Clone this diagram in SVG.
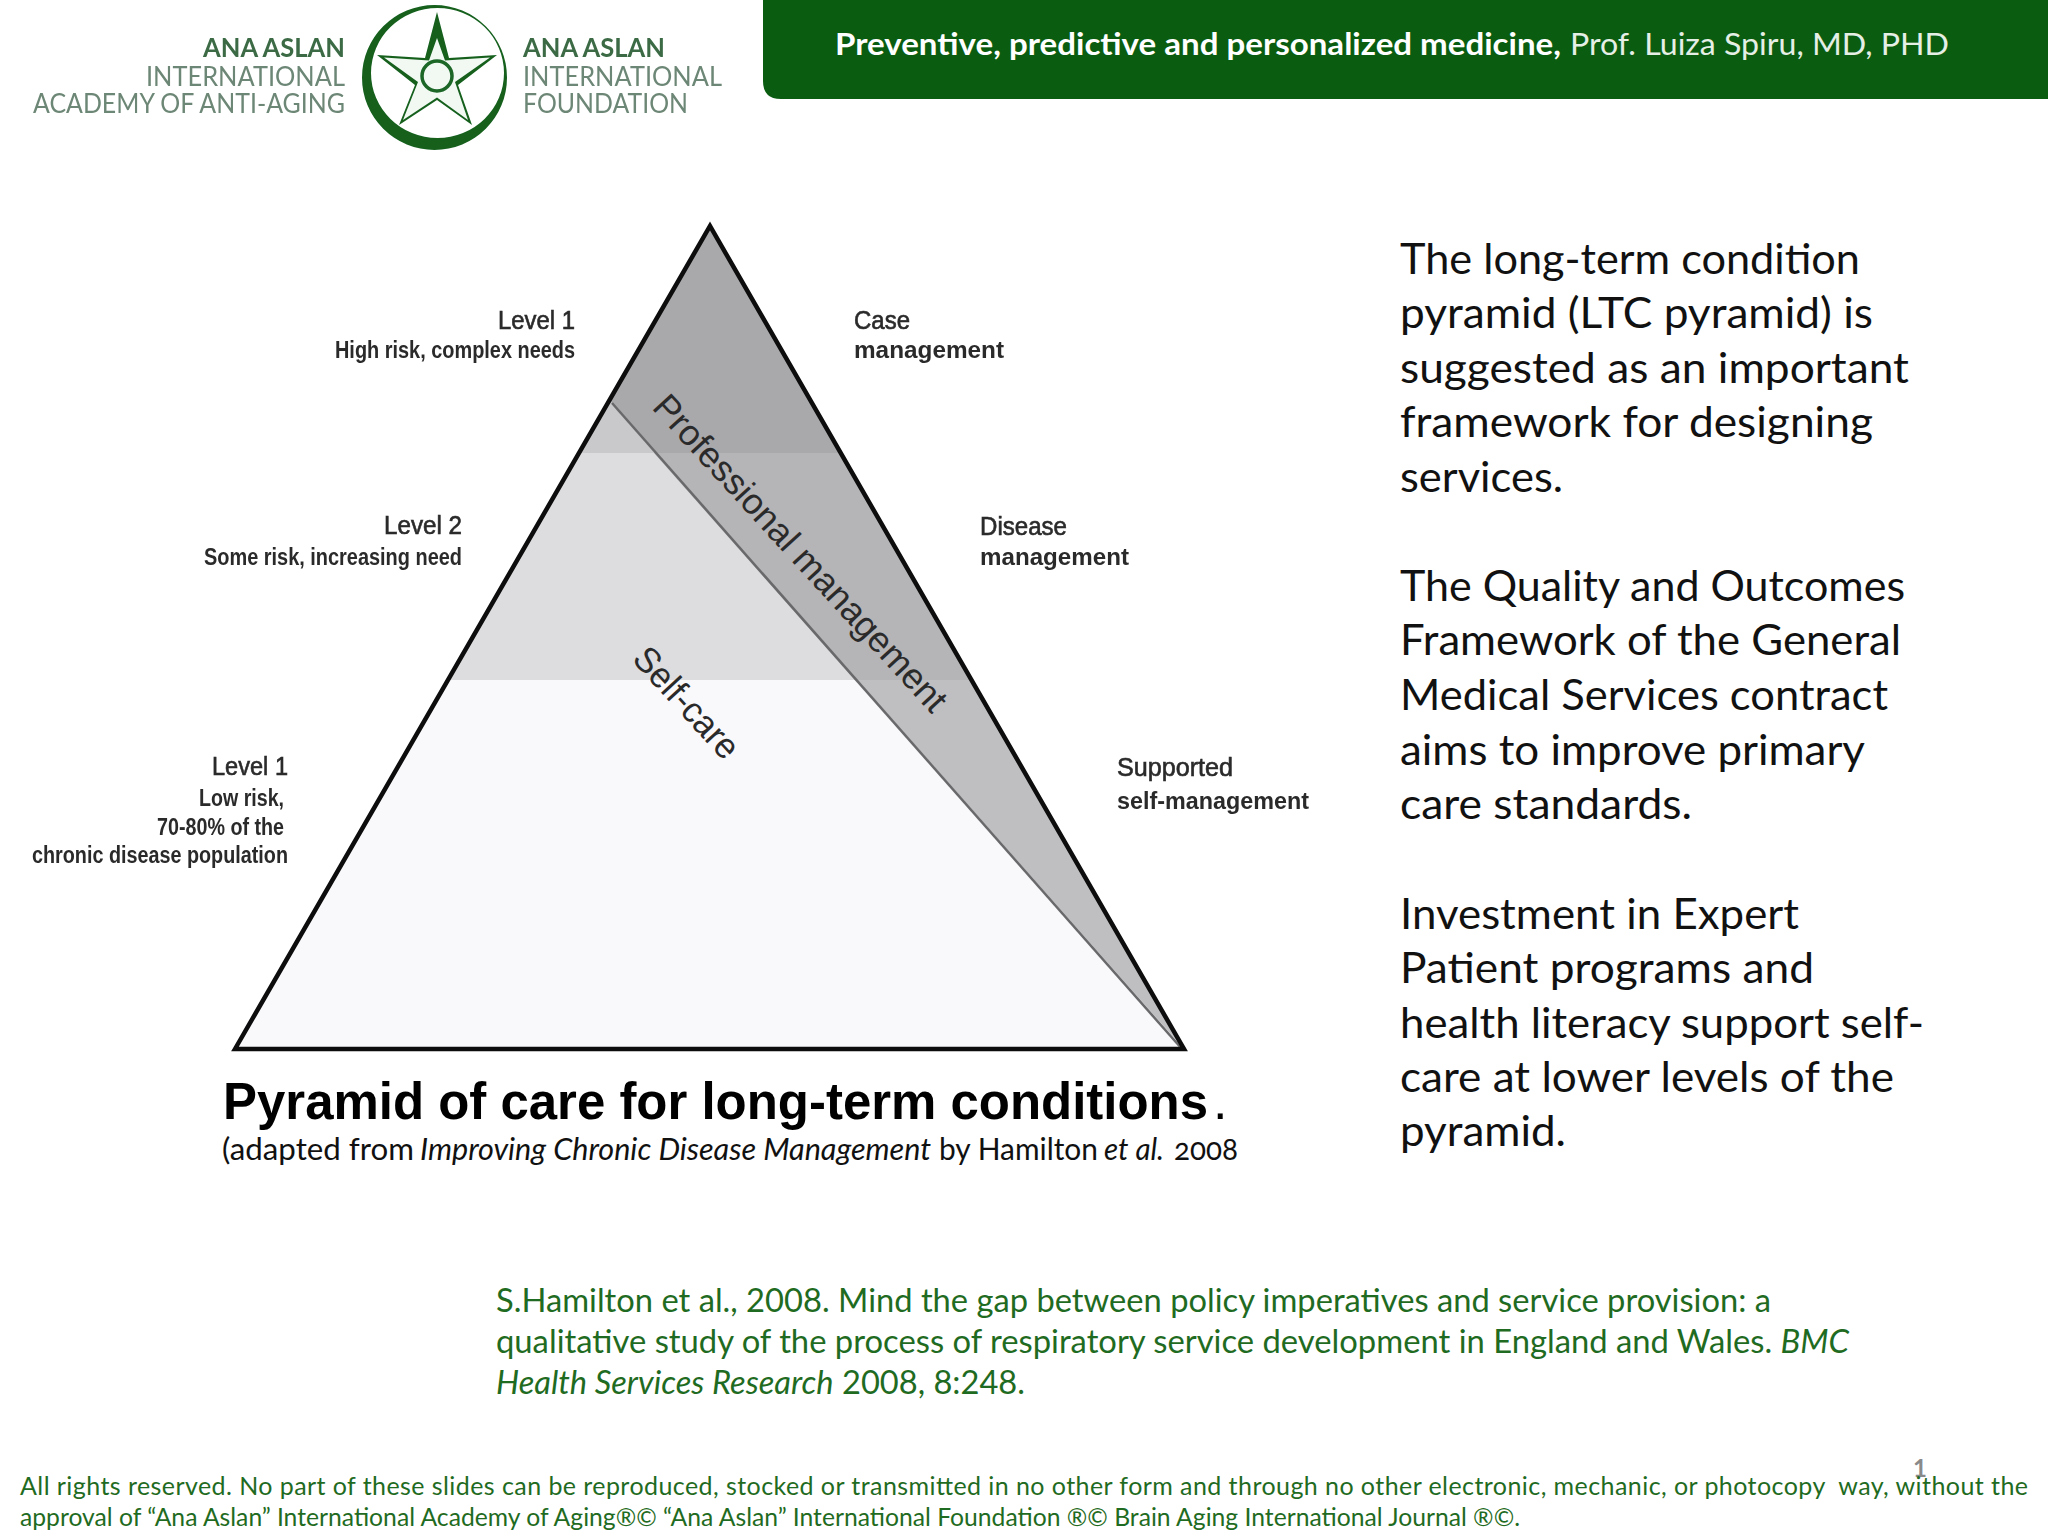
<svg xmlns="http://www.w3.org/2000/svg" width="2048" height="1536" viewBox="0 0 2048 1536">
<defs>
<filter id="soft" x="-5%" y="-5%" width="110%" height="110%"><feGaussianBlur stdDeviation="0.6"/></filter>
<clipPath id="tri"><path d="M235 1049L710 226L1184 1049Z"/></clipPath>
</defs>
<style>
text{font-family:"Lato","Noto Sans",sans-serif}
.b{font-size:43px;fill:#111}
.r{font-size:33px;fill:#1f6b22}
.f{font-size:25px;fill:#1f6b22;white-space:pre}
.a{font-family:"Liberation Sans",Arial,sans-serif;font-size:23px;fill:#2a2a2a;font-weight:bold}
.a2{font-family:"Liberation Sans",Arial,sans-serif;font-size:25px;fill:#2a2a2a;stroke:#2a2a2a;stroke-width:.6}
.l1{font-size:27px;font-weight:bold;fill:#3b6b45}
.l2{font-size:27px;fill:#6d8776}
.p{font-family:"Liberation Sans",Arial,sans-serif;fill:#2a2a2a;font-size:36px}
.c{font-size:30px;fill:#111}
</style>
<rect width="2048" height="1536" fill="#fff"/>
<g id="header">
<path d="M763 0H2048V99H781Q763 99 763 81Z" fill="#0a5d10"/>
<text x="835" y="55" font-size="31" fill="#fff" font-weight="bold" textLength="726" lengthAdjust="spacingAndGlyphs">Preventive, predictive and personalized medicine,</text>
<text x="1570" y="55" font-size="31" fill="#e6efe6" textLength="379" lengthAdjust="spacingAndGlyphs">Prof. Luiza Spiru, MD, PHD</text>
</g>
<g id="logo" filter="url(#soft)">
<path fill-rule="evenodd" d="M362 77.500A72.500 72.500 0 1 0 507 77.500A72.500 72.500 0 1 0 362 77.500ZM371 73A66.500 65 0 1 1 504 73A66.500 65 0 1 1 371 73Z" fill="#14601f"/>
<path d="M437 12L449 58L497 55L458 85L472 125L437 100L399 125L415 85L377 55L425 58Z" fill="#14601f"/>
<path d="M437 38L445 60.500L490 57.500L455 82L468 120L437 97.500L403 120L418 82L384 57.500L429 60.500Z" fill="#f2f9f2"/>
<circle cx="437" cy="76" r="15" fill="#f2f9f2" stroke="#1a6628" stroke-width="3.500"/>
<text class="l1" x="345" y="57" text-anchor="end" textLength="142" lengthAdjust="spacingAndGlyphs">ANA ASLAN</text>
<text class="l2" x="345" y="86" text-anchor="end" textLength="199" lengthAdjust="spacingAndGlyphs">INTERNATIONAL</text>
<text class="l2" x="345" y="113" text-anchor="end" textLength="312" lengthAdjust="spacingAndGlyphs">ACADEMY OF ANTI-AGING</text>
<text class="l1" x="523" y="57" textLength="142" lengthAdjust="spacingAndGlyphs">ANA ASLAN</text>
<text class="l2" x="523" y="86" textLength="199" lengthAdjust="spacingAndGlyphs">INTERNATIONAL</text>
<text class="l2" x="523" y="113" textLength="165" lengthAdjust="spacingAndGlyphs">FOUNDATION</text>
</g>
<g id="pyramid">
<g clip-path="url(#tri)">
<rect x="200" y="200" width="1000" height="880" fill="#f9f8fb"/>
<rect x="200" y="453" width="1000" height="227" fill="#dddcdf"/>
<rect x="200" y="200" width="1000" height="253" fill="#c9c8cb"/>
<path d="M612 403L1184 1049H1300V200H500Z" fill="#bfbec1"/>
<path d="M612 403L654 450.500V453H1000V200H500Z" fill="#a9a8ab"/>
<path d="M654 453L855 680H1000V453Z" fill="#b5b4b7"/>
</g>
<path d="M612 403L1182 1049" fill="none" stroke="#69696b" stroke-width="2.500"/>
<path d="M235 1049L710 226L1184 1049Z" fill="none" stroke="#0d0d0d" stroke-width="4.500" stroke-linejoin="miter"/>
<text class="p" x="0" y="0" textLength="416" lengthAdjust="spacingAndGlyphs" transform="translate(651 408) rotate(47.500)">Professional management</text>
<text class="p" x="0" y="0" textLength="138" lengthAdjust="spacingAndGlyphs" transform="translate(631 660) rotate(47.500)">Self-care</text>
</g>
<g id="labels-left" filter="url(#soft)">
<text class="a2" x="575" y="329" text-anchor="end" textLength="77" lengthAdjust="spacingAndGlyphs">Level 1</text>
<text class="a" x="575" y="358" text-anchor="end" textLength="240" lengthAdjust="spacingAndGlyphs">High risk, complex needs</text>
<text class="a2" x="462" y="534" text-anchor="end" textLength="78" lengthAdjust="spacingAndGlyphs">Level 2</text>
<text class="a" x="462" y="565" text-anchor="end" textLength="258" lengthAdjust="spacingAndGlyphs">Some risk, increasing need</text>
<text class="a2" x="288" y="775" text-anchor="end" textLength="76" lengthAdjust="spacingAndGlyphs">Level 1</text>
<text class="a" x="284" y="806" text-anchor="end" textLength="85" lengthAdjust="spacingAndGlyphs">Low risk,</text>
<text class="a" x="284" y="835" text-anchor="end" textLength="127" lengthAdjust="spacingAndGlyphs">70-80% of the</text>
<text class="a" x="288" y="863" text-anchor="end" textLength="256" lengthAdjust="spacingAndGlyphs">chronic disease population</text>
</g>
<g id="labels-right" filter="url(#soft)">
<text class="a2" x="854" y="329" textLength="56" lengthAdjust="spacingAndGlyphs">Case</text>
<text class="a" x="854" y="358" textLength="150" lengthAdjust="spacingAndGlyphs">management</text>
<text class="a2" x="980" y="535" textLength="87" lengthAdjust="spacingAndGlyphs">Disease</text>
<text class="a" x="980" y="565" textLength="149" lengthAdjust="spacingAndGlyphs">management</text>
<text class="a2" x="1117" y="776" textLength="116" lengthAdjust="spacingAndGlyphs">Supported</text>
<text class="a" x="1117" y="809" textLength="192" lengthAdjust="spacingAndGlyphs">self-management</text>
</g>
<g id="caption">
<text x="223" y="1119" font-size="52" font-weight="bold" fill="#000" style="font-family:'Liberation Sans',sans-serif" textLength="985" lengthAdjust="spacingAndGlyphs">Pyramid of care for long-term conditions</text>
<text x="1213" y="1119" font-size="52" fill="#000" style="font-family:'Liberation Sans',sans-serif">.</text>
<text class="c" x="222" y="1160" textLength="192" lengthAdjust="spacingAndGlyphs">(adapted from</text>
<text class="c" x="420" y="1160" font-style="italic" textLength="511" lengthAdjust="spacingAndGlyphs">Improving Chronic Disease Management</text>
<text class="c" x="939" y="1160" textLength="159" lengthAdjust="spacingAndGlyphs">by Hamilton</text>
<text class="c" x="1104" y="1160" font-style="italic" textLength="60" lengthAdjust="spacingAndGlyphs">et al.</text>
<text class="c" x="1174" y="1160" textLength="64" lengthAdjust="spacingAndGlyphs" style="font-feature-settings:'onum'">2008</text>
</g>
<g id="body">
<text class="b" x="1400" y="274" textLength="460" lengthAdjust="spacingAndGlyphs">The long-term condition</text>
<text class="b" x="1400" y="328" textLength="473" lengthAdjust="spacingAndGlyphs">pyramid (LTC pyramid) is</text>
<text class="b" x="1400" y="383" textLength="509" lengthAdjust="spacingAndGlyphs">suggested as an important</text>
<text class="b" x="1400" y="437" textLength="473" lengthAdjust="spacingAndGlyphs">framework for designing</text>
<text class="b" x="1400" y="492" textLength="163" lengthAdjust="spacingAndGlyphs">services.</text>
<text class="b" x="1400" y="601" textLength="505" lengthAdjust="spacingAndGlyphs">The Quality and Outcomes</text>
<text class="b" x="1400" y="655" textLength="501" lengthAdjust="spacingAndGlyphs">Framework of the General</text>
<text class="b" x="1400" y="710" textLength="488" lengthAdjust="spacingAndGlyphs">Medical Services contract</text>
<text class="b" x="1400" y="765" textLength="465" lengthAdjust="spacingAndGlyphs">aims to improve primary</text>
<text class="b" x="1400" y="819" textLength="292" lengthAdjust="spacingAndGlyphs">care standards.</text>
<text class="b" x="1400" y="929" textLength="399" lengthAdjust="spacingAndGlyphs">Investment in Expert</text>
<text class="b" x="1400" y="983" textLength="414" lengthAdjust="spacingAndGlyphs">Patient programs and</text>
<text class="b" x="1400" y="1038" textLength="524" lengthAdjust="spacingAndGlyphs">health literacy support self-</text>
<text class="b" x="1400" y="1092" textLength="494" lengthAdjust="spacingAndGlyphs">care at lower levels of the</text>
<text class="b" x="1400" y="1146" textLength="166" lengthAdjust="spacingAndGlyphs">pyramid.</text>
</g>
<g id="reference">
<text class="r" x="496" y="1312" textLength="1275" lengthAdjust="spacingAndGlyphs">S.Hamilton et al., 2008. Mind the gap between policy imperatives and service provision: a</text>
<text class="r" x="496" y="1353" textLength="1353" lengthAdjust="spacingAndGlyphs">qualitative study of the process of respiratory service development in England and Wales. <tspan font-style="italic">BMC</tspan></text>
<text class="r" x="496" y="1394" textLength="529" lengthAdjust="spacingAndGlyphs"><tspan font-style="italic">Health Services Research</tspan> 2008, 8:248.</text>
</g>
<g id="footer">
<text x="1920" y="1477" font-size="24" font-weight="bold" fill="#8a8a8a" text-anchor="middle">1</text>
<text class="f" x="20" y="1495" textLength="2008" lengthAdjust="spacing">All rights reserved. No part of these slides can be reproduced, stocked or transmitted in no other form and through no other electronic, mechanic, or photocopy  way, without the</text>
<text class="f" x="20" y="1526" textLength="1500" lengthAdjust="spacingAndGlyphs">approval of “Ana Aslan” International Academy of Aging®© “Ana Aslan” International Foundation ®© Brain Aging International Journal ®©.</text>
</g>
</svg>
